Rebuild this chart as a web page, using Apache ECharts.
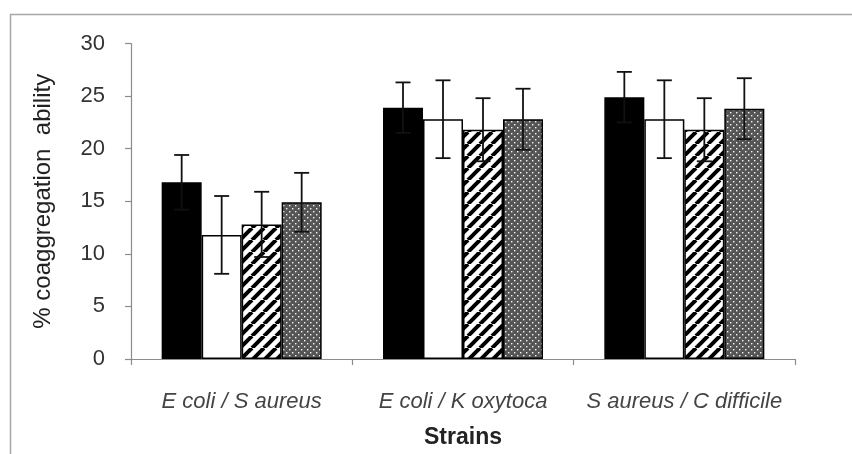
<!DOCTYPE html>
<html>
<head>
<meta charset="utf-8">
<script src="https://cdn.jsdelivr.net/npm/echarts@6/dist/echarts.min.js"></script>
<style>
  html, body { margin: 0; padding: 0; background: #fff; }
  #chart { width: 852px; height: 454px; }
</style>
</head>
<body>
<div id="chart"></div>
<script>
// Strain pairs on the category axis
const categories = ['E coli / S aureus', 'E coli / K oxytoca', 'S aureus / C difficile'];

// Mean coaggregation (%) for each of the four series
const solidValues   = [16.8, 23.9, 24.9];
const openValues    = [11.8, 22.8, 22.8];
const hatchedValues = [12.8, 21.8, 21.8];
const dottedValues  = [14.9, 22.8, 23.8];

// Standard deviations drawn as error bars
const solidErrors   = [2.6, 2.4, 2.4];
const openErrors    = [3.7, 3.7, 3.7];
const hatchedErrors = [3.1, 3.0, 3.0];
const dottedErrors  = [2.8, 2.9, 2.9];

// Value axis ticks
const yTicks = [0, 5, 10, 15, 20, 25, 30];

// --- fill patterns -------------------------------------------------------
function hatchTile() {
  const c = document.createElement('canvas');
  const s = 12;
  c.width = s; c.height = s;
  const g = c.getContext('2d');
  g.fillStyle = '#fff';
  g.fillRect(0, 0, s, s);
  g.strokeStyle = '#000';
  g.lineWidth = 4;
  for (let k = -1; k <= 1; k++) {
    g.beginPath();
    g.moveTo(k * s, s);
    g.lineTo(k * s + s, 0);
    g.stroke();
  }
  return c;
}

function dotTile() {
  const c = document.createElement('canvas');
  c.width = 6; c.height = 6;
  const g = c.getContext('2d');
  g.fillStyle = '#555';
  g.fillRect(0, 0, 6, 6);
  g.fillStyle = '#f4f4f4';
  g.fillRect(1, 1, 1.4, 1.4);
  g.fillRect(4, 4, 1.4, 1.4);
  return c;
}

const BAR_W = 40;

const barSeries = [
  { name: 'solid',   values: solidValues,   errors: solidErrors,   fill: '#000' },
  { name: 'open',    values: openValues,    errors: openErrors,    fill: '#fff' },
  { name: 'hatched', values: hatchedValues, errors: hatchedErrors, fill: { image: hatchTile(), repeat: 'repeat' } },
  { name: 'dotted',  values: dottedValues,  errors: dottedErrors,  fill: { image: dotTile(), repeat: 'repeat' } }
];

const series = [];
barSeries.forEach(function (s) {
  series.push({
    name: s.name,
    type: 'bar',
    data: s.values,
    barWidth: BAR_W,
    barGap: '0%',
    itemStyle: { color: s.fill, borderColor: '#000', borderWidth: 1.5 },
    z: 2
  });
});

// Error bars, offset to sit over the centre of each bar
barSeries.forEach(function (s, idx) {
  const offset = (idx - (barSeries.length - 1) / 2) * BAR_W;
  series.push({
    name: s.name + ' error',
    type: 'custom',
    z: 5,
    encode: { x: 0, y: 1 },
    data: s.values.map(function (v, i) { return [i, v, s.errors[i]]; }),
    renderItem: function (params, api) {
      const cat = api.value(0);
      const v = api.value(1);
      const e = api.value(2);
      const hi = api.coord([cat, v + e]);
      const lo = api.coord([cat, v - e]);
      const x = hi[0] + offset;
      const cap = 7.5;
      const style = { stroke: '#111', lineWidth: 1.8 };
      return {
        type: 'group',
        children: [
          { type: 'line', shape: { x1: x, y1: hi[1], x2: x, y2: lo[1] }, style: style },
          { type: 'line', shape: { x1: x - cap, y1: hi[1], x2: x + cap, y2: hi[1] }, style: style },
          { type: 'line', shape: { x1: x - cap, y1: lo[1], x2: x + cap, y2: lo[1] }, style: style }
        ]
      };
    }
  });
});

const chart = echarts.init(document.getElementById('chart'), null, { renderer: 'canvas' });

const FONT = '"Liberation Sans", sans-serif';

chart.setOption({
  animation: false,
  backgroundColor: '#fff',
  textStyle: { fontFamily: FONT },
  graphic: [{
    type: 'rect',
    shape: { x: 10.5, y: 14.5, width: 900, height: 500 },
    style: { fill: 'none', stroke: '#a6a6a6', lineWidth: 1.5 },
    silent: true
  }],
  grid: { left: 131, right: 57, top: 43.5, bottom: 94 },
  xAxis: {
    type: 'category',
    data: categories,
    name: 'Strains',
    nameLocation: 'middle',
    nameGap: 67,
    nameTextStyle: { fontSize: 23, fontWeight: 'bold', color: '#222', fontFamily: FONT },
    axisLine: { lineStyle: { color: '#8c8c8c', width: 1.2 } },
    axisTick: { show: true, length: 6, lineStyle: { color: '#8c8c8c', width: 1.2 } },
    axisLabel: {
      interval: 0, hideOverlap: false,
      fontSize: 22, fontStyle: 'italic', color: '#444', margin: 32, fontFamily: FONT
    },
    splitLine: { show: false }
  },
  yAxis: {
    type: 'value',
    min: yTicks[0],
    max: yTicks[yTicks.length - 1],
    interval: yTicks[1] - yTicks[0],
    name: '% coaggregation  ability',
    nameLocation: 'middle',
    nameGap: 76,
    nameRotate: 90,
    nameTextStyle: { fontSize: 24, color: '#222', fontFamily: FONT },
    axisLine: { show: true, lineStyle: { color: '#8c8c8c', width: 1.2 } },
    axisTick: { show: true, length: 6, lineStyle: { color: '#8c8c8c', width: 1.2 } },
    axisLabel: { fontSize: 22, color: '#333', margin: 26, fontFamily: FONT },
    splitLine: { show: false }
  },
  series: series
});
</script>
</body>
</html>
